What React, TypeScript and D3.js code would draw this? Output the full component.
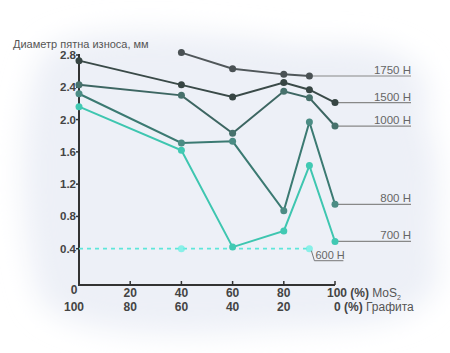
import React from 'react';
import * as d3 from 'd3';

// доля MoS2, %
const mos2 = [0, 40, 60, 80, 90, 100];
const xTicks = [20, 40, 60, 80, 100];
const yTicks = [0.4, 0.8, 1.2, 1.6, 2.0, 2.4, 2.8];

const load1750 = [null, 2.83, 2.63, 2.56, 2.54, null];
const load1500 = [2.73, 2.43, 2.28, 2.46, 2.37, 2.21];
const load1000 = [2.43, 2.30, 1.83, 2.35, 2.27, 1.92];
const load800 = [2.32, 1.71, 1.73, 0.87, 1.97, 0.95];
const load700 = [2.16, 1.62, 0.42, 0.62, 1.43, 0.49];
const load600 = [0.4, 0.4, 0.4, null, 0.4, null];

const series = [
    {name: '1750 H', values: load1750, color: '#50575a', dot: '#4a5154'},
    {name: '1500 H', values: load1500, color: '#3a4a48', dot: '#374543'},
    {name: '1000 H', values: load1000, color: '#3d6662', dot: '#47716c'},
    {name: '800 H', values: load800, color: '#3b7a72', dot: '#4b8c84'},
    {name: '700 H', values: load700, color: '#3ec6b0', dot: '#41c9b3'},
];

const width = 450;
const height = 353;

const x = d3.scaleLinear().domain([0, 100]).range([79, 335]);
const y = d3.scaleLinear().domain([0, 2.8]).range([281, 55]);
const axisY = 285;
const labelEnd = 411;

const font = '"Liberation Sans", Arial, sans-serif';

export default function App() {
    const line = d3.line<[number, number]>()
        .x(d => x(d[0]))
        .y(d => y(d[1]));

    const pts = (vals: (number | null)[]) =>
        vals.map((v, i) => [mos2[i], v] as [number, number | null])
            .filter(d => d[1] !== null) as [number, number][];

    const dash600 = pts(load600);
    const last600 = dash600[dash600.length - 1];

    return (
        <svg width={width} height={height} style={{position: 'absolute', left: 0, top: 0, background: '#fff'}}
             fontFamily={font}>
            <defs>
                <filter id="cloud" x="-20%" y="-20%" width="140%" height="140%">
                    <feGaussianBlur stdDeviation="14"/>
                </filter>
            </defs>
            <path d="M40,60 C60,20 200,30 300,45 C400,40 440,60 425,120 C450,170 430,230 440,270 C430,330 360,325 260,330 C150,340 60,330 40,300 C20,240 15,120 40,60 Z"
                  fill="#edf0f7" filter="url(#cloud)"/>

            <text x={13} y={48} fontSize={11} fill="#555">Диаметр пятна износа, мм</text>

            {/* оси */}
            <line x1={x(0)} x2={x(0)} y1={y(2.8) - 1} y2={axisY} stroke="#333" strokeWidth={2}/>
            <line x1={x(0) - 1} x2={x(100)} y1={axisY} y2={axisY} stroke="#333" strokeWidth={2}/>
            {yTicks.map(t => (
                <g key={t}>
                    <line x1={x(0) - 3} x2={x(0)} y1={y(t)} y2={y(t)} stroke="#333" strokeWidth={1.5}/>
                    <text x={x(0) - 3} y={y(t) + 4} fontSize={11.5} fontWeight="bold" fill="#444"
                          textAnchor="end">{d3.format('.1f')(t)}</text>
                </g>
            ))}
            <text x={74} y={294} fontSize={12} fontWeight="bold" fill="#444" textAnchor="middle">0</text>
            {xTicks.map(t => (
                <g key={t}>
                    <line x1={x(t)} x2={x(t)} y1={axisY - 4} y2={axisY} stroke="#333" strokeWidth={1.5}/>
                    {t < 100 && <text x={x(t)} y={297} fontSize={12} fontWeight="bold" fill="#444"
                                      textAnchor="middle">{t}</text>}
                    {t < 100 && <text x={x(t)} y={311} fontSize={12} fontWeight="bold" fill="#444"
                                      textAnchor="middle">{100 - t}</text>}
                </g>
            ))}
            <text x={74} y={311} fontSize={12} fontWeight="bold" fill="#444" textAnchor="middle">100</text>
            <text x={x(100) - 8} y={297} fontSize={12} fill="#555">
                <tspan fontWeight="bold" fill="#444">100 (%)</tspan> MoS<tspan fontSize={7} dy={3}>2</tspan>
            </text>
            <text x={x(100) - 1} y={311} fontSize={12} fill="#555">
                <tspan fontWeight="bold" fill="#444">0 (%)</tspan> Графита
            </text>

            {/* 600 H */}
            <path d={line(dash600) || ''} fill="none" stroke="#5fe6da" strokeWidth={1.8} strokeDasharray="4,4"/>
            {dash600.filter((d, i) => i === 1 || i === dash600.length - 1).map((d, i) => (
                <circle key={i} cx={x(d[0])} cy={y(d[1])} r={3.5} fill="#6ff0e4" opacity={0.8}/>
            ))}
            <path d={`M${x(last600[0]) + 2},${y(last600[1]) + 2} L${x(last600[0]) + 5},${y(last600[1]) + 12} L${x(last600[0]) + 34},${y(last600[1]) + 12}`}
                  fill="none" stroke="#777" strokeWidth={1}/>
            <text x={x(last600[0]) + 6} y={y(last600[1]) + 10} fontSize={11} fill="#666">600 H</text>

            {series.slice().reverse().map(s => {
                const p = pts(s.values);
                const end = p[p.length - 1];
                return (
                    <g key={s.name}>
                        <line x1={x(end[0])} x2={labelEnd} y1={y(end[1])} y2={y(end[1])} stroke="#888"
                              strokeWidth={1.2}/>
                        <text x={labelEnd} y={y(end[1]) - 2} fontSize={11.5} fill="#666"
                              textAnchor="end">{s.name}</text>
                        <path d={line(p) || ''} fill="none" stroke={s.color} strokeWidth={2}/>
                        {p.map((d, i) => (
                            <circle key={i} cx={x(d[0])} cy={y(d[1])} r={3.5} fill={s.dot}/>
                        ))}
                    </g>
                );
            })}
        </svg>
    );
}
